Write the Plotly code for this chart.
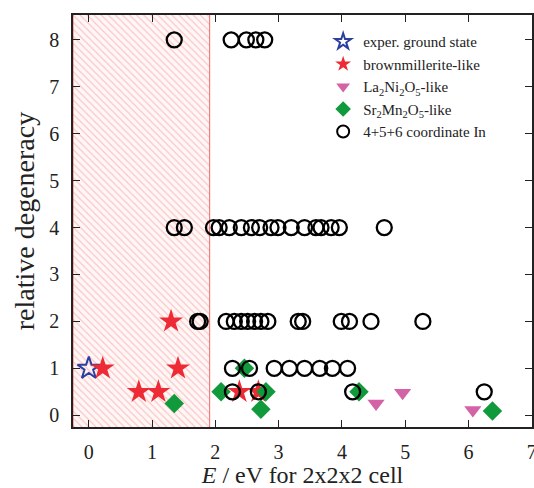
import plotly.graph_objects as go

# ---- data ----
shade_x = [-0.25, 1.91]  # hatched energy window

exper_x = [0.0]
exper_y = [1]

brown_x = [0.22, 1.41, 1.30, 0.79, 1.10, 2.38, 2.68]
brown_y = [1, 1, 2, 0.5, 0.5, 0.5, 0.5]

la_x = [4.54, 4.96, 6.07]
la_y = [0.25, 0.48, 0.11]

sr_x = [1.35, 2.09, 2.46, 2.80, 2.72, 4.27, 6.38]
sr_y = [0.25, 0.5, 1, 0.5, 0.13, 0.5, 0.09]

c8_x = [1.35, 2.25, 2.49, 2.64, 2.78]
c4_x = [1.35, 1.51, 1.97, 2.06, 2.22, 2.41, 2.57, 2.70, 2.88, 2.99, 3.20, 3.41,
        3.59, 3.67, 3.83, 3.96, 4.67]
c2_x = [1.72, 1.76, 2.17, 2.30, 2.41, 2.51, 2.62, 2.72, 2.83, 3.31, 3.38, 3.99,
        4.12, 4.46, 5.28]
c1_x = [2.27, 2.54, 2.93, 3.17, 3.41, 3.65, 3.85, 4.09]
c05_x = [2.27, 2.68, 4.17, 6.25]

circ_x = c8_x + c4_x + c2_x + c1_x + c05_x
circ_y = ([8] * len(c8_x) + [4] * len(c4_x) + [2] * len(c2_x) + [1] * len(c1_x)
          + [0.5] * len(c05_x))

x_ticks = [0, 1, 2, 3, 4, 5, 6, 7]
y_ticks = [0, 1, 2, 3, 4, 5, 6, 7, 8]

FONT = "Liberation Serif, Times New Roman, serif"

fig = go.Figure()

# hatched region
fig.add_trace(go.Scatter(
    x=[shade_x[0], shade_x[1], shade_x[1], shade_x[0], shade_x[0]],
    y=[-1, -1, 10, 10, -1],
    mode="lines", fill="toself",
    line=dict(color="rgba(240,90,90,0.9)", width=1),
    fillcolor="rgba(255,245,245,1)",
    fillpattern=dict(shape="\\", fgcolor="rgba(245,110,110,0.75)",
                     bgcolor="rgba(255,246,246,1)", size=5, solidity=0.22),
    showlegend=False, hoverinfo="skip"))

fig.add_trace(go.Scatter(
    x=exper_x, y=exper_y, mode="markers", name="exper. ground state",
    marker=dict(symbol="star-open", size=17, color="#2a3f9e", line=dict(width=2))))
fig.add_trace(go.Scatter(
    x=brown_x, y=brown_y, mode="markers", name="brownmillerite-like",
    marker=dict(symbol="star", size=18, color="#ee2b35", line=dict(width=0))))
fig.add_trace(go.Scatter(
    x=la_x, y=la_y, mode="markers", name="La<sub>2</sub>Ni<sub>2</sub>O<sub>5</sub>-like",
    marker=dict(symbol="triangle-down", size=15, color="#d462a6", line=dict(width=0))))
fig.add_trace(go.Scatter(
    x=sr_x, y=sr_y, mode="markers", name="Sr<sub>2</sub>Mn<sub>2</sub>O<sub>5</sub>-like",
    marker=dict(symbol="diamond", size=15, color="#119a3c", line=dict(width=0))))
fig.add_trace(go.Scatter(
    x=circ_x, y=circ_y, mode="markers", name="4+5+6 coordinate In",
    marker=dict(symbol="circle-open", size=15, color="black", line=dict(width=2.3))))

axis_common = dict(
    showline=True, linecolor="#222", linewidth=1.5, mirror="ticks",
    ticks="inside", ticklen=7, tickwidth=1.3, tickcolor="#222",
    showgrid=False, zeroline=False, ticklabeloverflow="allow", automargin=False,
    tickfont=dict(family=FONT, size=20, color="#222"),
)

fig.update_xaxes(range=[-0.25, 7.005], tickvals=x_ticks, ticklabelstandoff=6,
                 title=dict(text="<i>E</i> / eV for 2x2x2 cell",
                            font=dict(family=FONT, size=24, color="#222"), standoff=3),
                 **axis_common)
fig.update_yaxes(range=[-0.25, 8.53], tickvals=y_ticks, ticklabelstandoff=8,
                 title=dict(text="relative degeneracy",
                            font=dict(family=FONT, size=28, color="#222"), standoff=6),
                 **axis_common)

fig.update_layout(
    width=534, height=488,
    margin=dict(l=73, r=2, t=15, b=61),
    plot_bgcolor="white", paper_bgcolor="white",
    showlegend=True,
    legend=dict(x=0.545, y=0.975, xanchor="left", yanchor="top",
                bgcolor="rgba(0,0,0,0)", itemsizing="constant",
                font=dict(family=FONT, size=15, color="#222"),
                tracegroupgap=0),
)

fig.write_html("out.html")
